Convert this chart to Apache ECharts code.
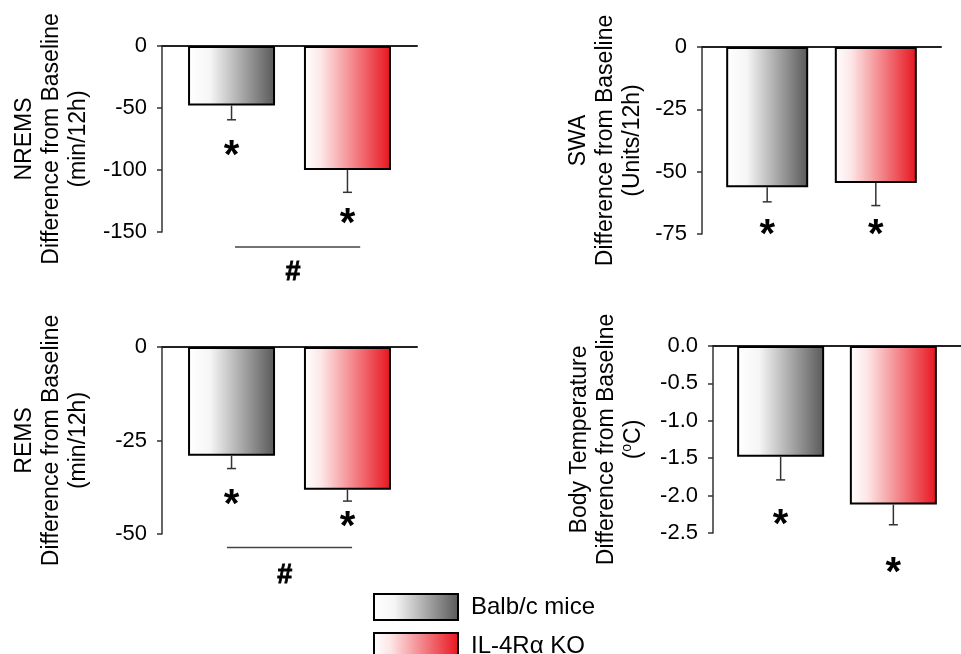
<!DOCTYPE html>
<html>
<head>
<meta charset="utf-8">
<script src="https://cdn.jsdelivr.net/npm/echarts@6/dist/echarts.min.js"></script>
<style>
html,body{margin:0;padding:0;background:#fff;}
#chart{width:961px;height:654px;}
</style>
</head>
<body>
<div id="chart"></div>
<script>
// ---- data ----
const groups = ['Balb/c mice', 'IL-4Rα KO'];
const groupPos = [0, 1];

const nremsMean = [-48, -100];
const nremsErr = [11.5, 18];
const nremsStar = [-82, -137];
const nremsTicks = [-150, -100, -50, 0];

const swaMean = [-56.3, -54.5];
const swaErr = [5.8, 9.1];
const swaStar = [-72, -72];
const swaTicks = [-75, -50, -25, 0];

const remsMean = [-29.1, -38.2];
const remsErr = [3.4, 3.0];
const remsStar = [-40, -46];
const remsTicks = [-50, -25, 0];

const tempMean = [-1.48, -2.12];
const tempErr = [0.31, 0.27];
const tempStar = [-2.29, -2.93];
const tempTicks = [-2.5, -2.0, -1.5, -1.0, -0.5, 0.0];

// significance annotations: [xStart, xEnd, yLine, xLabel, yLabel]
const nremsSig = [0.03, 1.11, -162, 0.53, -182];
const remsSig = [-0.04, 1.04, -53.6, 0.46, -60.8];

// ---- layout / styles ----
const FONT = '"Liberation Sans", Arial, Helvetica, sans-serif';
const fills = [
  {type:'linear', x:0, y:0, x2:1, y2:0, colorStops:[{offset:0,color:'#ffffff'},{offset:0.25,color:'#f6f6f6'},{offset:1,color:'#585858'}]},
  {type:'linear', x:0, y:0, x2:1, y2:0, colorStops:[{offset:0,color:'#ffffff'},{offset:0.2,color:'#fde6e7'},{offset:1,color:'#e8141e'}]}
];

const panels = [
  {grid:{left:162, top:46, width:255, height:186}, mean:nremsMean, err:nremsErr, star:nremsStar, ticks:nremsTicks,
   name:'NREMS\nDifference from Baseline\n(min/12h)', nameGap:70, barWidth:87, sig:nremsSig, dec:0},
  {grid:{left:702, top:47, width:239, height:187}, mean:swaMean, err:swaErr, star:swaStar, ticks:swaTicks,
   name:'SWA\nDifference from Baseline\n(Units/12h)', nameGap:56, barWidth:82, sig:null, dec:0},
  {grid:{left:162, top:347, width:255, height:187}, mean:remsMean, err:remsErr, star:remsStar, ticks:remsTicks,
   name:'REMS\nDifference from Baseline\n(min/12h)', nameGap:70, barWidth:87, sig:remsSig, dec:0},
  {grid:{left:713, top:346, width:255, height:187}, mean:tempMean, err:tempErr, star:tempStar, ticks:tempTicks,
   name:'Body Temperature\nDifference from Baseline\n({sup|o}C)', nameGap:66, barWidth:87, sig:null, dec:1}
];

const grid = [], xAxis = [], yAxis = [], series = [];
panels.forEach((p, k) => {
  grid.push(Object.assign({containLabel:false}, p.grid));
  xAxis.push({
    gridIndex:k, type:'value', min:-0.6, max:1.6, position:'top',
    axisLine:{show:true, onZero:false, lineStyle:{color:'#222', width:2}},
    axisTick:{show:false}, axisLabel:{show:false}, splitLine:{show:false}
  });
  const tmin = p.ticks[0], tmax = p.ticks[p.ticks.length-1];
  yAxis.push({
    gridIndex:k, type:'value', min:tmin, max:tmax, interval:p.ticks[1]-p.ticks[0], position:'left',
    axisLine:{show:true, onZero:false, lineStyle:{color:'#333', width:1.5}},
    axisTick:{show:true, inside:false, length:5, lineStyle:{color:'#333', width:1.5}},
    axisLabel:{color:'#000', fontSize:22, fontFamily:FONT, margin:15,
      formatter:v => (Math.abs(v) < 1e-9 ? 0 : v).toFixed(p.dec)},
    splitLine:{show:false},
    name:p.name, nameLocation:'middle', nameRotate:90, nameGap:p.nameGap,
    nameTextStyle:{color:'#000', fontSize:23, lineHeight:27, fontFamily:FONT, align:'center',
      rich:{sup:{fontSize:14, lineHeight:27, verticalAlign:'top', fontFamily:FONT, color:'#000'}}}
  });
  groups.forEach((g, i) => {
    series.push({
      type:'bar', name:g, xAxisIndex:k, yAxisIndex:k, stack:'p'+k,
      barWidth:p.barWidth,
      itemStyle:{color:fills[i], borderColor:'#000', borderWidth:2},
      data:[[groupPos[i], p.mean[i]]],
      animation:false, z:2
    });
  });
  series.push({
    type:'custom', xAxisIndex:k, yAxisIndex:k, clip:false, z:3, animation:false, silent:true,
    data:groupPos.map((x, i) => [x, p.mean[i], p.err[i]]),
    encode:{x:0, y:1},
    renderItem:(params, api) => {
      const x = api.value(0), m = api.value(1), e = api.value(2);
      const a = api.coord([x, m]), b = api.coord([x, m - e]);
      const st = {stroke:'#333', lineWidth:1.5};
      return {type:'group', children:[
        {type:'line', shape:{x1:a[0], y1:a[1], x2:b[0], y2:b[1]}, style:st},
        {type:'line', shape:{x1:b[0]-4.5, y1:b[1], x2:b[0]+4.5, y2:b[1]}, style:st}
      ]};
    }
  });
  series.push({
    type:'custom', xAxisIndex:k, yAxisIndex:k, clip:false, z:3, animation:false, silent:true,
    data:groupPos.map((x, i) => [x, p.star[i]]),
    encode:{x:0, y:1},
    renderItem:(params, api) => {
      const c = api.coord([api.value(0), api.value(1)]);
      return {type:'text', style:{text:'*', x:c[0], y:c[1] + 9, fill:'#000',
        fontSize:40, fontWeight:'bold', fontFamily:FONT, align:'center', verticalAlign:'middle'}};
    }
  });
  if (p.sig) {
    series.push({
      type:'custom', xAxisIndex:k, yAxisIndex:k, clip:false, z:3, animation:false, silent:true,
      data:[p.sig],
      encode:{x:0, y:2},
      renderItem:(params, api) => {
        const a = api.coord([api.value(0), api.value(2)]);
        const b = api.coord([api.value(1), api.value(2)]);
        const t = api.coord([api.value(3), api.value(4)]);
        return {type:'group', children:[
          {type:'line', shape:{x1:a[0], y1:a[1], x2:b[0], y2:b[1]}, style:{stroke:'#444', lineWidth:1.5}},
          {type:'text', style:{text:'#', x:t[0], y:t[1] + 1, fill:'#000', fontSize:27, fontWeight:'bold',
            fontFamily:FONT, align:'center', verticalAlign:'middle', stroke:'#000', lineWidth:0.8}}
        ]};
      }
    });
  }
});

const chart = echarts.init(document.getElementById('chart'), null, {renderer:'canvas'});
chart.setOption({
  animation:false,
  backgroundColor:'#fff',
  legend:{
    data:groups, orient:'vertical', left:373, top:593, height:100, itemWidth:84, itemHeight:26, itemGap:11,
    icon:'rect', padding:0,
    textStyle:{color:'#000', fontSize:24, fontFamily:FONT, padding:[0,0,0,8]},
    itemStyle:{borderColor:'#000', borderWidth:2}
  },
  grid, xAxis, yAxis, series
});
</script>
</body>
</html>
